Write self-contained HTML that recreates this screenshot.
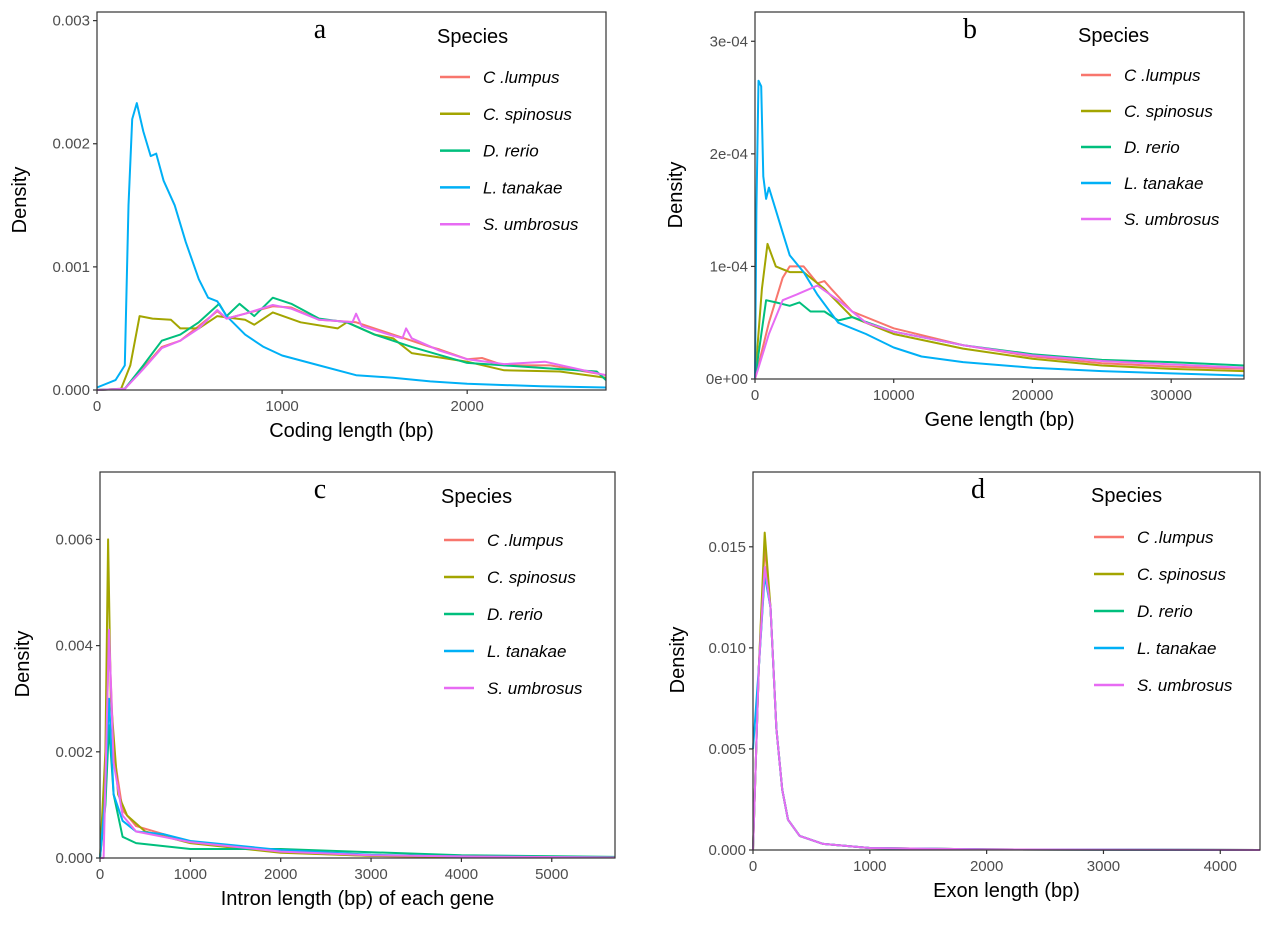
<!DOCTYPE html>
<html><head><meta charset="utf-8"><style>
html,body{margin:0;padding:0;background:#fff;}
svg{display:block;font-family:"Liberation Sans",sans-serif;}
.tk{font-size:15px;fill:#4d4d4d;}
.at{font-size:20px;fill:#000;}
.lg{font-size:17px;font-style:italic;fill:#000;}
.sp{font-size:20px;fill:#000;}
.let{font-family:"Liberation Serif",serif;font-size:28px;fill:#000;}
</style></head><body>
<svg id="s" width="1269" height="930" viewBox="0 0 1269 930" xmlns="http://www.w3.org/2000/svg"></svg>
<script>
var C=["#F8766D","#A3A500","#00BF7D","#00B0F6","#E76BF3"];
var N=["C .lumpus","C. spinosus","D. rerio","L. tanakae","S. umbrosus"];
var s=document.getElementById('s');var h='';
function panel(p){
 var L=p.L,R=p.R,T=p.T,B=p.B,xmax=p.xmax,ymax=p.ymax,xt=p.xt,yt=p.yt,ylab=p.ylab,xl=p.xl,lt=p.lt,lx=p.lx,ly=p.ly,leg=p.leg,series=p.series;
 var X=function(v){return L+(R-L)*v/xmax;}, Y=function(v){return B-(B-T)*v/ymax;};
 for(var i=0;i<5;i++){var d=series[i];
  h+='<polyline fill="none" stroke="'+C[i]+'" stroke-width="2" stroke-linejoin="round" points="'+d.map(function(q){return X(q[0]).toFixed(1)+','+Y(q[1]).toFixed(1);}).join(' ')+'"/>';}
 h+='<rect x="'+L+'" y="'+T+'" width="'+(R-L)+'" height="'+(B-T)+'" fill="none" stroke="#333" stroke-width="1.2"/>';
 yt.forEach(function(t){var y=Y(t[0]);h+='<line x1="'+(L-4)+'" x2="'+L+'" y1="'+y+'" y2="'+y+'" stroke="#333" stroke-width="1.2"/><text class="tk" x="'+(L-7)+'" y="'+(y+5)+'" text-anchor="end">'+t[1]+'</text>';});
 xt.forEach(function(t){var x=X(t);h+='<line x1="'+x+'" x2="'+x+'" y1="'+B+'" y2="'+(B+4)+'" stroke="#333" stroke-width="1.2"/><text class="tk" x="'+x+'" y="'+(B+21)+'" text-anchor="middle">'+t+'</text>';});
 h+='<text class="at" x="'+((L+R)/2)+'" y="'+(B+47)+'" text-anchor="middle">'+xl+'</text>';
 h+='<text class="at" transform="translate('+ylab[0]+','+ylab[1]+') rotate(-90)" text-anchor="middle">Density</text>';
 h+='<text class="let" x="'+lx+'" y="'+ly+'" text-anchor="middle">'+lt+'</text>';
 h+='<text class="sp" x="'+leg.x+'" y="'+leg.y+'">Species</text>';
 for(var k=0;k<5;k++){var yy=leg.r0+k*leg.dr;h+='<line x1="'+(leg.x+3)+'" x2="'+(leg.x+33)+'" y1="'+yy+'" y2="'+yy+'" stroke="'+C[k]+'" stroke-width="2.5"/><text class="lg" x="'+(leg.x+46)+'" y="'+(yy+6)+'">'+N[k]+'</text>';}
}
var aL=[[0,0],[150,0.00001],[250,0.00018],[350,0.00035],[450,0.0004],[550,0.00052],[650,0.00064],[700,0.00058],[800,0.00062],[950,0.00068],[1050,0.00067],[1200,0.00057],[1400,0.00055],[1600,0.00045],[1800,0.00035],[1850,0.00033],[2000,0.00025],[2080,0.00026],[2200,0.0002],[2450,0.0002],[2600,0.00016],[2750,0.00012]];
var aU=[[0,0],[150,0.00001],[250,0.00017],[350,0.00034],[450,0.0004],[550,0.0005],[650,0.00065],[700,0.00058],[800,0.00062],[950,0.00069],[1050,0.00066],[1200,0.00057],[1300,0.00056],[1380,0.00055],[1400,0.00062],[1430,0.00052],[1600,0.00044],[1650,0.00042],[1670,0.0005],[1700,0.00042],[1850,0.00032],[2000,0.00025],[2200,0.00021],[2420,0.00023],[2600,0.00017],[2750,0.00012]];
panel({L:97,R:606,T:12,B:390,xmax:2750,ymax:0.00307,xt:[0,1000,2000],
 yt:[[0,'0.000'],[0.001,'0.001'],[0.002,'0.002'],[0.003,'0.003']],ylab:[26,200],xl:'Coding length (bp)',lt:'a',lx:320,ly:38,
 leg:{x:437,y:43,r0:77,dr:36.8},
 series:[aL,
 [[0,0],[130,0.00001],[180,0.0002],[230,0.0006],[300,0.00058],[400,0.00057],[450,0.0005],[550,0.0005],[650,0.0006],[800,0.00057],[850,0.00053],[950,0.00063],[1100,0.00055],[1300,0.0005],[1350,0.00055],[1500,0.00045],[1600,0.00042],[1700,0.0003],[2000,0.00023],[2200,0.00016],[2500,0.00015],[2750,0.0001]],
 [[0,0],[150,0.00001],[250,0.0002],[350,0.0004],[450,0.00045],[550,0.00055],[660,0.0007],[700,0.0006],[770,0.0007],[850,0.0006],[950,0.00075],[1050,0.0007],[1200,0.00058],[1350,0.00055],[1500,0.00045],[1700,0.00035],[2000,0.00022],[2200,0.0002],[2500,0.00017],[2700,0.00015],[2750,0.00008]],
 [[0,0.00002],[100,0.00008],[150,0.0002],[170,0.0015],[190,0.0022],[215,0.00233],[250,0.0021],[290,0.0019],[320,0.00192],[360,0.0017],[420,0.0015],[480,0.0012],[550,0.0009],[600,0.00075],[650,0.00072],[700,0.0006],[800,0.00045],[900,0.00035],[1000,0.00028],[1200,0.0002],[1400,0.00012],[1600,0.0001],[1800,0.00007],[2000,0.00005],[2400,0.00003],[2750,0.00002]],
 aU]});
panel({L:755,R:1244,T:12,B:379,xmax:35250,ymax:0.000326,xt:[0,10000,20000,30000],
 yt:[[0,'0e+00'],[0.0001,'1e-04'],[0.0002,'2e-04'],[0.0003,'3e-04']],ylab:[682,195],xl:'Gene length (bp)',lt:'b',lx:970,ly:38,
 leg:{x:1078,y:42,r0:75,dr:36},
 series:[
 [[0,0],[1000,0.00005],[2000,0.00009],[2500,0.0001],[3500,0.0001],[4500,0.000085],[5000,0.000087],[5500,0.00008],[7000,0.00006],[10000,0.000045],[15000,0.00003],[20000,0.00002],[25000,0.000014],[30000,0.000011],[35250,0.000009]],
 [[0,0],[500,0.00008],[900,0.00012],[1500,0.0001],[2500,0.000095],[3500,0.000095],[5000,0.00008],[7000,0.000055],[10000,0.00004],[15000,0.000027],[20000,0.000018],[25000,0.000012],[30000,0.000009],[35250,0.000007]],
 [[0,0],[800,0.00007],[1500,0.000068],[2500,0.000065],[3200,0.000068],[4000,0.00006],[5000,0.00006],[6000,0.000052],[7000,0.000055],[10000,0.000042],[15000,0.00003],[20000,0.000022],[25000,0.000017],[30000,0.000015],[35250,0.000012]],
 [[0,0],[100,0.00015],[250,0.000265],[450,0.00026],[600,0.00018],[800,0.00016],[1000,0.00017],[1500,0.00015],[2000,0.00013],[2500,0.00011],[3500,0.000095],[4500,0.000075],[6000,0.00005],[8000,0.00004],[10000,0.000028],[12000,0.00002],[15000,0.000015],[20000,0.00001],[25000,0.000007],[30000,0.000005],[35250,0.000003]],
 [[0,0],[1000,0.00004],[2000,0.00007],[3000,0.000075],[4500,0.000083],[6000,0.00007],[8000,0.00005],[10000,0.000042],[15000,0.00003],[20000,0.000021],[25000,0.000016],[30000,0.000013],[35250,0.00001]]]});
panel({L:100,R:615,T:472,B:858,xmax:5700,ymax:0.00727,xt:[0,1000,2000,3000,4000,5000],
 yt:[[0,'0.000'],[0.002,'0.002'],[0.004,'0.004'],[0.006,'0.006']],ylab:[29,664],xl:'Intron length (bp) of each gene',lt:'c',lx:320,ly:498,
 leg:{x:441,y:503,r0:540,dr:37},
 series:[
 [[0,0],[50,0.001],[100,0.0042],[150,0.002],[250,0.0009],[400,0.0006],[1000,0.0003],[2000,0.00011],[3000,0.00004],[4000,0.00002],[5700,0.00001]],
 [[0,0],[60,0.002],[90,0.006],[120,0.003],[200,0.0012],[300,0.0008],[500,0.0005],[1000,0.00028],[2000,0.0001],[3000,0.00004],[4000,0.00002],[5700,0.00001]],
 [[0,0],[60,0.001],[100,0.0025],[150,0.0012],[250,0.0004],[400,0.00028],[1000,0.00017],[2000,0.00017],[3000,0.00011],[4000,0.00005],[5700,0.00002]],
 [[0,0],[50,0.001],[100,0.003],[150,0.0012],[250,0.0007],[400,0.0005],[700,0.00045],[1000,0.00032],[2000,0.00015],[3000,0.00006],[4000,0.00003],[5700,0.00001]],
 [[0,0],[40,0],[100,0.0043],[150,0.0018],[250,0.0008],[400,0.0005],[1000,0.0003],[2000,0.00012],[3000,0.00005],[4000,0.00003],[5700,0.00001]]]});
function dS(pk,s0){return [[0,s0],[50,0.009],[100,pk],[150,0.012],[200,0.006],[250,0.003],[300,0.0015],[400,0.0007],[600,0.0003],[1000,0.0001],[2000,0.00003],[4340,0]];}
panel({L:753,R:1260,T:472,B:850,xmax:4340,ymax:0.0187,xt:[0,1000,2000,3000,4000],
 yt:[[0,'0.000'],[0.005,'0.005'],[0.01,'0.010'],[0.015,'0.015']],ylab:[684,660],xl:'Exon length (bp)',lt:'d',lx:978,ly:498,
 leg:{x:1091,y:502,r0:537,dr:37},
 series:[dS(0.015,0),dS(0.0157,0),dS(0.0138,0),dS(0.0136,0.005),dS(0.014,0)]});
s.innerHTML=h;
</script>
</body></html>
